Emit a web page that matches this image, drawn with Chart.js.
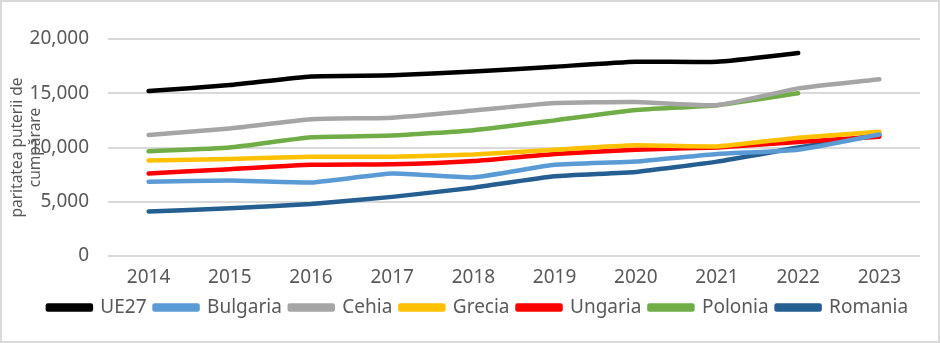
<!DOCTYPE html>
<html>
<head>
<meta charset="utf-8">
<script src="https://cdn.jsdelivr.net/npm/chart.js@4/dist/chart.umd.min.js"></script>
<style>
  body { margin: 0; background: #fff; }
  #wrap { position: relative; width: 940px; height: 343px; }
  #frame { position: absolute; left: 0; top: 0; width: 940px; height: 343px; box-sizing: border-box; border: 2px solid #d9d9d9; pointer-events: none; }
</style>
</head>
<body>
<div id="wrap">
  <canvas id="ppsChart"></canvas>
  <div id="frame"></div>
</div>
<script>
// date (paritatea puterii de cumparare)
const ani = ['2014', '2015', '2016', '2017', '2018', '2019', '2020', '2021', '2022', '2023'];
const ue27     = [15200, 15750, 16550, 16650, 17000, 17450, 17900, 17900, 18700, null];
const bulgaria = [6850, 6950, 6780, 7600, 7250, 8400, 8700, 9400, 9800, 11200];
const cehia    = [11150, 11750, 12600, 12750, 13400, 14100, 14200, 13900, 15450, 16300];
const grecia   = [8800, 8950, 9150, 9150, 9350, 9800, 10200, 10100, 10900, 11450];
const ungaria  = [7600, 8000, 8400, 8450, 8750, 9400, 9800, 10000, 10500, 11000];
const polonia  = [9650, 10000, 10950, 11100, 11600, 12500, 13450, 13900, 15000, null];
const romania  = [4100, 4400, 4800, 5450, 6300, 7350, 7750, 8700, 10000, 11200];
const yTicks   = [0, 5000, 10000, 15000, 20000];

const textColor = '#595959';
const fontFam = '"Noto Sans", "Open Sans", sans-serif';

function serie(nume, valori, culoare) {
    return {
        label: nume,
        data: valori,
        borderColor: culoare,
        backgroundColor: culoare,
        borderWidth: 4.5,
        borderCapStyle: 'round',
        borderJoinStyle: 'round',
        pointRadius: 0,
        tension: 0.15,
        fill: false
    };
}

new Chart(document.getElementById('ppsChart'), {
    type: 'line',
    data: {
        labels: ani,
        datasets: [
            serie('UE27', ue27, '#000000'),
            serie('Bulgaria', bulgaria, '#5b9bd5'),
            serie('Cehia', cehia, '#a5a5a5'),
            serie('Grecia', grecia, '#ffc000'),
            serie('Ungaria', ungaria, '#ff0000'),
            serie('Polonia', polonia, '#70ad47'),
            serie('Romania', romania, '#255e91')
        ]
    },
    options: {
        responsive: true,
        maintainAspectRatio: false,
        animation: false,
        // stanga 16 / dreapta 0 ca legenda sa fie centrata ca in original
        layout: { padding: { top: 39, right: 0, bottom: 16, left: 16 } },
        plugins: {
            tooltip: { enabled: false },
            legend: {
                position: 'bottom',
                labels: {
                    boxWidth: 43,
                    boxHeight: 4,
                    padding: 8,
                    color: textColor,
                    font: { family: fontFam, size: 19 }
                }
            }
        },
        scales: {
            x: {
                offset: true,
                afterFit: (scale) => { scale.height = 34; },
                grid: { display: false, drawTicks: false },
                border: { display: false },
                ticks: { color: textColor, padding: 10, font: { family: fontFam, size: 19 }, maxRotation: 0 }
            },
            y: {
                min: 0,
                max: 20000,
                afterBuildTicks: (scale) => { scale.ticks = yTicks.map(v => ({ value: v })); },
                afterFit: (scale) => { scale.width = 92; },
                grid: { color: '#d9d9d9', lineWidth: 2, drawTicks: false },
                border: { display: false },
                ticks: {
                    color: textColor,
                    padding: 19,
                    font: { family: fontFam, size: 19 },
                    callback: (v) => v.toLocaleString('en-US')
                },
                title: {
                    display: true,
                    text: ['paritatea puterii de', 'cumpărare'],
                    color: textColor,
                    font: { family: fontFam, size: 15.5, lineHeight: 1.15 },
                    padding: { top: -7, bottom: 0 }
                }
            },
            // axa goala in dreapta, doar pentru spatiu
            yRight: {
                position: 'right',
                afterFit: (scale) => { scale.width = 20; },
                grid: { display: false, drawTicks: false },
                border: { display: false },
                ticks: { display: false }
            }
        }
    }
});
</script>
</body>
</html>
